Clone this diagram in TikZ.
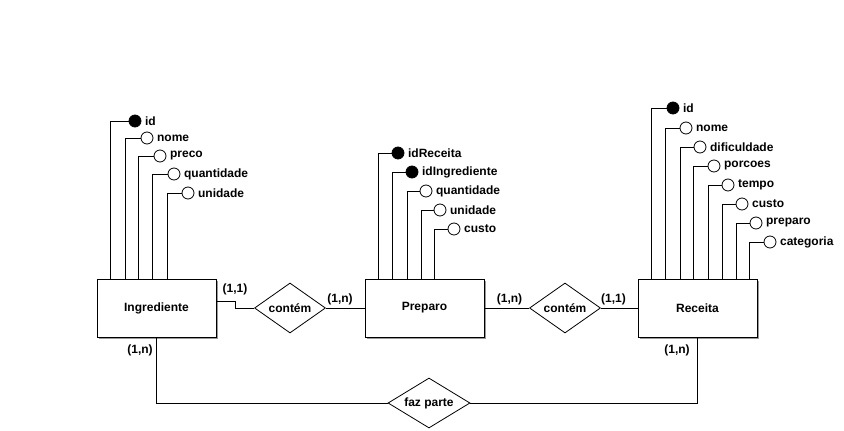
\documentclass[tikz,border=0pt]{standalone}
\usepackage{fontspec}
\setmainfont{Liberation Sans}
\usetikzlibrary{shapes.geometric,shadows}

\begin{document}
\begin{tikzpicture}[x=1pt,y=-1pt,line width=0.8pt,
  font=\fontsize{12}{14}\selectfont\bfseries,
  entity/.style={draw,fill=white,minimum width=119pt,minimum height=58pt,
    drop shadow={shadow xshift=2pt,shadow yshift=-2pt,fill=gray!80,opacity=1}},
  attr/.style={draw,circle,fill=white,minimum size=12pt,inner sep=0pt},
  keyattr/.style={attr,fill=black},
  rel/.style={draw,diamond,fill=white,inner sep=0pt,shape aspect=1.4,
    minimum width=71pt,minimum height=50pt},
  card/.style={inner sep=0pt}]
\useasboundingbox (0,0) rectangle (844,431);
\node[entity] (ingr) at (156.5,308) {Ingrediente};
\node[entity] (prep) at (424.5,308) {Preparo};
\node[entity] (rec) at (697.5,308) {Receita};
\node[rel] (cont1) at (290,308) {contém};
\node[rel] (cont2) at (565,308) {contém};
\node[rel,minimum width=82pt] (faz) at (429,403) {faz parte};
\node[keyattr,label=right:id] (ingr_id) at (135,121) {};
\node[attr,label=right:nome] (ingr_nome) at (147,138) {};
\node[attr,label=right:preco] (ingr_preco) at (160,156) {};
\node[attr,label=right:quantidade] (ingr_qtd) at (174,174) {};
\node[attr,label=right:unidade] (ingr_un) at (188,193) {};
\node[keyattr,label=right:idReceita] (prep_idrec) at (398,153) {};
\node[keyattr,label=right:idIngrediente] (prep_iding) at (412,172) {};
\node[attr,label=right:quantidade] (prep_qtd) at (426,191) {};
\node[attr,label=right:unidade] (prep_un) at (440,210) {};
\node[attr,label=right:custo] (prep_custo) at (454,229) {};
\node[keyattr,label=right:id] (rec_id) at (673,108) {};
\node[attr,label=right:nome] (rec_nome) at (686,128) {};
\node[attr,label=right:dificuldade] (rec_dif) at (700,147) {};
\node[attr,label=right:porcoes] (rec_porc) at (714,166) {};
\node[attr,label=right:tempo] (rec_tempo) at (728,185) {};
\node[attr,label=right:custo] (rec_custo) at (742,204) {};
\node[attr,label=right:preparo] (rec_prep) at (756,223) {};
\node[attr,label=right:categoria] (rec_cat) at (770,242) {};
\node[card] (c_ingr1) at (235,289) {(1,1)};
\node[card] (c_prep1) at (340,299) {(1,n)};
\node[card] (c_prep2) at (509.5,299) {(1,n)};
\node[card] (c_rec1) at (613.5,299) {(1,1)};
\node[card] (c_ingr2) at (140,350) {(1,n)};
\node[card] (c_rec2) at (677,350) {(1,n)};
\draw (ingr.north west) ++(14,0) |- (ingr_id);
\draw (ingr.north west) ++(29,0) |- (ingr_nome);
\draw (ingr.north west) ++(42,0) |- (ingr_preco);
\draw (ingr.north west) ++(56,0) |- (ingr_qtd);
\draw (ingr.north west) ++(71,0) |- (ingr_un);
\draw (prep.north west) ++(14,0) |- (prep_idrec);
\draw (prep.north west) ++(28,0) |- (prep_iding);
\draw (prep.north west) ++(43,0) |- (prep_qtd);
\draw (prep.north west) ++(57,0) |- (prep_un);
\draw (prep.north west) ++(70,0) |- (prep_custo);
\draw (rec.north west) ++(14,0) |- (rec_id);
\draw (rec.north west) ++(28,0) |- (rec_nome);
\draw (rec.north west) ++(43,0) |- (rec_dif);
\draw (rec.north west) ++(56,0) |- (rec_porc);
\draw (rec.north west) ++(71,0) |- (rec_tempo);
\draw (rec.north west) ++(85,0) |- (rec_custo);
\draw (rec.north west) ++(99,0) |- (rec_prep);
\draw (rec.north west) ++(112,0) |- (rec_cat);
\draw ([yshift=7pt]ingr.east) -| ++(19,7) -- (cont1.west);
\draw (cont1.east) -- (prep.west);
\draw (prep.east) -- (cont2.west);
\draw (cont2.east) -- (rec.west);
\draw (ingr.south) |- (faz.west);
\draw (rec.south) |- (faz.east);
\end{tikzpicture}
\end{document}
